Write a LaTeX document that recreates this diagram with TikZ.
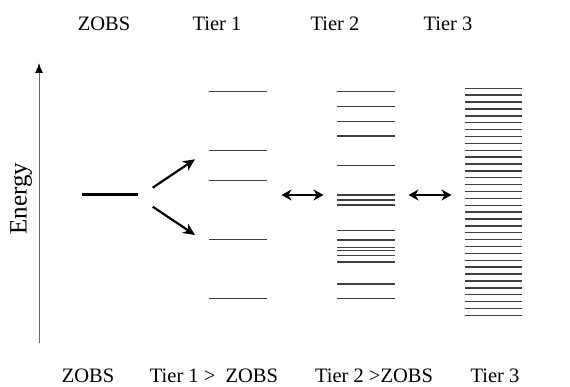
\documentclass[tikz,border=0pt]{standalone}
\usepackage{fontspec}
\setmainfont{Liberation Serif}
\usepackage{tikz}
\usetikzlibrary{arrows,arrows.meta}
\tikzset{x=1pt, y=-1pt,
	lbl/.style={font=\fontsize{20.5}{24}\selectfont, inner sep=0pt, anchor=base},
	lvl/.style={draw=black!75, line width=1.4pt},
	trans/.style={line width=2.2pt, -{Stealth[length=12pt,width=11pt]}},
	coup/.style={line width=2.6pt, {Stealth[length=10pt,width=11pt]}-{Stealth[length=10pt,width=11pt]}}}

\begin{document}
\begin{tikzpicture}
	\useasboundingbox (0,0) rectangle (570,387);
	% headings
	\node(hZ)[lbl] at (104,31){ZOBS};
	\node(h1)[lbl] at (217,31){Tier 1};
	\node(h2)[lbl] at (335,31){Tier 2};
	\node(h3)[lbl] at (448,31){Tier 3};
	% footers
	\node(fZ)[lbl] at (88,382){ZOBS};
	\node(f1)[lbl] at (214,382){Tier 1 >\ \ ZOBS};
	\node(f2)[lbl] at (374,382){Tier 2 >ZOBS};
	\node(f3)[lbl] at (495,382){Tier 3};
	% energy axis
	\coordinate(eLo) at (39,343);
	\coordinate(eHi) at (39,63);
	\draw[draw=black!60, line width=1pt, -{Latex[length=10pt,width=8pt,black]}](eLo) -- (eHi);
	\node(energy)[lbl, font=\fontsize{25}{28}\selectfont, rotate=90] at (26.5,198.5){Energy};
	% ZOBS state
	\draw[line width=3pt](82,195) -- (138,195);
	% tier 1
	\foreach \y in {91.7,150.7,180.3,239.7,298.7}
		\draw[lvl](209,\y) -- (267,\y);
	% tier 2
	\foreach \y in {91.7,106.5,121.3,136,165.7,195,200,205,230.7,240,247.7,250.7,255.7,262,284,298.7}
		\draw[lvl](337,\y) -- (395,\y);
	% tier 3
	\foreach \i in {0,...,33}
		\draw[lvl](464.5,88.3+\i*6.88) -- (522,88.3+\i*6.88);
	% transitions
	\coordinate(zA) at (152.7,187.7);
	\coordinate(zB) at (152.7,206.7);
	\coordinate(tA) at (195,159.3);
	\coordinate(tB) at (195,235);
	\draw[trans](zA) to (tA);
	\draw[trans](zB) to (tB);
	\coordinate(c1a) at (281.5,195);
	\coordinate(c1b) at (323.5,195);
	\coordinate(c2a) at (408.5,195);
	\coordinate(c2b) at (451.5,195);
	\draw[coup](c1a) to (c1b);
	\draw[coup](c2a) to (c2b);
\end{tikzpicture}
\end{document}
